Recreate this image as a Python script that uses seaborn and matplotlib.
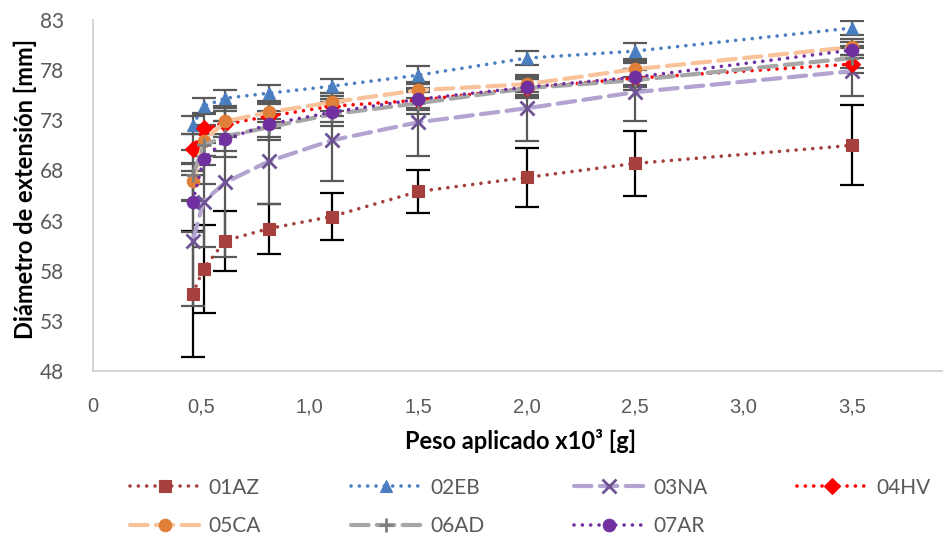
import matplotlib
matplotlib.use("Agg")
import matplotlib.pyplot as plt
import seaborn as sns
import pandas as pd

# Applied weight (x10^3 g)
peso = [0.46, 0.51, 0.61, 0.81, 1.10, 1.50, 2.00, 2.50, 3.50]

# Mean extension diameter [mm] per sample
az01 = [55.7, 58.2, 61.0, 62.2, 63.4, 65.9, 67.3, 68.7, 70.5]
eb02 = [72.5, 74.4, 75.2, 75.7, 76.4, 77.5, 79.2, 79.9, 82.2]
na03 = [61.0, 64.9, 66.8, 68.9, 71.0, 72.8, 74.2, 75.8, 77.9]
hv04 = [70.1, 72.2, 72.6, 73.4, 74.4, 75.0, 76.2, 77.2, 78.6]
ca05 = [66.9, 70.9, 72.9, 73.8, 74.8, 76.0, 76.6, 78.1, 80.3]
ad06 = [67.5, 70.5, 71.4, 72.3, 73.6, 74.7, 76.2, 77.0, 79.2]
ar07 = [64.9, 69.1, 71.1, 72.6, 73.8, 75.1, 76.3, 77.3, 80.0]

# Standard deviation [mm] per sample
az01_sd = [6.3, 4.4, 3.0, 2.5, 2.3, 2.1, 2.9, 3.2, 4.0]
eb02_sd = [0.9, 0.8, 0.8, 0.8, 0.7, 0.9, 0.7, 0.8, 0.7]
na03_sd = [6.5, 4.5, 7.4, 4.2, 4.1, 3.4, 3.3, 2.9, 2.5]
hv04_sd = [1.5, 1.5, 1.3, 1.2, 1.0, 1.0, 0.9, 0.9, 0.9]
ca05_sd = [1.8, 1.5, 1.3, 1.0, 0.9, 0.8, 0.8, 0.8, 0.8]
ad06_sd = [2.5, 2.0, 1.5, 1.3, 1.2, 1.1, 1.0, 1.0, 1.0]
ar07_sd = [3.0, 2.5, 1.8, 1.3, 1.0, 0.9, 0.8, 0.8, 0.8]

series_names = ["01AZ", "02EB", "03NA", "04HV", "05CA", "06AD", "07AR"]
x_ticks = [0, 0.5, 1.0, 1.5, 2.0, 2.5, 3.0, 3.5]
x_tick_labels = ["0", "0,5", "1,0", "1,5", "2,0", "2,5", "3,0", "3,5"]
y_ticks = [48, 53, 58, 63, 68, 73, 78, 83]

means = [az01, eb02, na03, hv04, ca05, ad06, ar07]
sds = [az01_sd, eb02_sd, na03_sd, hv04_sd, ca05_sd, ad06_sd, ar07_sd]

rows = []
for name, m, s in zip(series_names, means, sds):
    for xv, yv, sv in zip(peso, m, s):
        rows.append({"muestra": name, "peso": xv, "diametro": yv, "sd": sv})
df = pd.DataFrame(rows)

dot = (0, (0.01, 2.3))
dash = (0, (4.2, 2.0))
styles = {
    "01AZ": dict(color="#A5403C", ls=dot, lw=2.6, marker="s", mfc="#A5403C", mec="#A5403C", ms=8.5, ecol="#000000"),
    "02EB": dict(color="#4A7EC0", ls=dot, lw=2.6, marker="^", mfc="#4A7EC0", mec="#4A7EC0", ms=9, ecol="#595959"),
    "03NA": dict(color="#B3A3D0", ls=dash, lw=3.0, marker="x", mfc="#6E5494", mec="#6E5494", ms=10, ecol="#595959"),
    "04HV": dict(color="#FF0000", ls=dot, lw=2.6, marker="D", mfc="#FF0000", mec="#FF0000", ms=8, ecol="#595959"),
    "05CA": dict(color="#F8C39B", ls=dash, lw=3.0, marker="o", mfc="#E07F38", mec="#E07F38", ms=9, ecol="#595959"),
    "06AD": dict(color="#A6A6A6", ls=dash, lw=3.0, marker="+", mfc="#7F7F7F", mec="#7F7F7F", ms=10, ecol="#595959"),
    "07AR": dict(color="#7030A0", ls=dot, lw=2.6, marker="o", mfc="#7030A0", mec="#7030A0", ms=9, ecol="#595959"),
}

sns.set_theme(style="white")
plt.rcParams["font.family"] = ["Lato", "DejaVu Sans"]

fig = plt.figure(figsize=(9.43, 5.39), dpi=100)
ax = fig.add_axes([93 / 943, 1 - 371 / 539, 1 - 93 / 943, (371 - 20) / 539])

grey_text = "#595959"
handles = {}
for name in series_names:
    st = styles[name]
    sub = df[df["muestra"] == name]
    ax.errorbar(sub["peso"], sub["diametro"], yerr=sub["sd"], fmt="none",
                ecolor=st["ecol"], elinewidth=1.6, capsize=8.5, capthick=1.6, zorder=2)
for name in series_names:
    st = styles[name]
    sub = df[df["muestra"] == name]
    sns.lineplot(data=sub, x="peso", y="diametro", ax=ax, errorbar=None, legend=False,
                 color=st["color"], linestyle=st["ls"], linewidth=st["lw"],
                 marker=st["marker"], markersize=st["ms"],
                 markerfacecolor=st["mfc"], markeredgecolor=st["mec"],
                 markeredgewidth=2.0 if st["marker"] in ("x", "+") else 0.8,
                 dash_capstyle="round", zorder=3)
    handles[name] = ax.get_lines()[-1]

ax.set_xlim(0, 3.92)
ax.set_ylim(48, 83)
ax.set_xticks(x_ticks)
ax.set_xticklabels(x_tick_labels, fontfamily=["Liberation Sans"], fontsize=14.5, color=grey_text)
ax.set_yticks(y_ticks)
ax.set_yticklabels([str(v) for v in y_ticks], fontsize=15, color=grey_text)
ax.tick_params(axis="both", length=0)
ax.tick_params(axis="x", pad=19)
ax.tick_params(axis="y", pad=21)
ax.set_xlabel("")
ax.set_ylabel("")
for side in ("top", "right"):
    ax.spines[side].set_visible(False)
for side in ("left", "bottom"):
    ax.spines[side].set_color("#D0D0D0")
    ax.spines[side].set_linewidth(1.3)

fig.text(25 / 943, 1 - 189 / 539, "Diámetro de extensión [mm]", rotation=90,
         ha="center", va="center", fontsize=17, fontweight="bold", color="#000000")
fig.text(521 / 943, 1 - 441 / 539, "Peso aplicado x10³ [g]",
         ha="center", va="center", fontsize=17, fontweight="bold", color="#000000")

order = ["01AZ", "05CA", "02EB", "06AD", "03NA", "07AR", "04HV"]
leg = fig.legend([handles[n] for n in order], order, ncol=4, loc="center",
                 bbox_to_anchor=(0.562, 1 - 507 / 539), frameon=False,
                 fontsize=15, handlelength=3.4, columnspacing=4.3,
                 handletextpad=0.4, labelspacing=0.9)
for t in leg.get_texts():
    t.set_color(grey_text)

fig.savefig("out.png", dpi=100)
